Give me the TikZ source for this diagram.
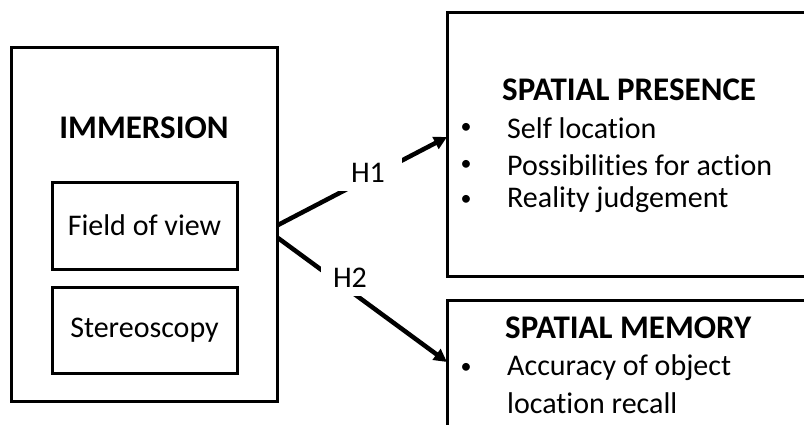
\documentclass[tikz,border=0pt]{standalone}
\usepackage{fontspec}
\setmainfont[Ligatures=NoCommon]{Carlito}
\usetikzlibrary{arrows.meta}
\begin{document}
\begin{tikzpicture}[x=1pt,y=-1pt,
  boxline/.style={draw=black,line width=3pt},
  txt/.style={font=\fontsize{30}{36}\selectfont,inner sep=0pt},
  bul/.style={font=\fontsize{22}{26}\selectfont,inner sep=0pt},
  head/.style={font=\fontsize{33}{40}\selectfont\bfseries,inner sep=0pt},
  conn/.style={line width=4.5pt,-{Triangle[length=13pt,width=13pt]}},
  hlab/.style={fill=white,font=\fontsize{30}{36}\selectfont,inner ysep=8pt}]
\useasboundingbox (0,0) rectangle (804,424);
% left box
\node[boxline,minimum width=266pt,minimum height=354pt,inner sep=0pt] (imm) at (144.5,224.5) {};
\node[head] (immt) at (144,128) {IMMERSION};
\node[boxline,minimum width=185pt,minimum height=87pt,inner sep=0pt] (fov) at (144.5,225.5) {};
\node[txt] (fovt) at (144.5,225.5) {Field of view};
\node[boxline,minimum width=185pt,minimum height=86pt,inner sep=0pt] (ster) at (144.5,330) {};
\node[txt] (stert) at (144.5,330) {Stereoscopy};
% right boxes (cut by the page)
\coordinate (spTL) at (447,12);
\draw[line width=3pt] (830,12) -- (spTL) -- (447,276) -- (830,276);
\coordinate (smTL) at (447,300);
\draw[line width=3pt] (830,300) -- (smTL) -- (447,440);
\node[head,anchor=west] (spt) at (502,90) {SPATIAL PRESENCE};
\node[bul] (b1) at (466,128) {•};
\node[bul] (b2) at (466,165) {•};
\node[bul] (b3) at (466,200) {•};
\node[txt,anchor=west] (i1) at (507,128) {Self location};
\node[txt,anchor=west] (i2) at (507,165) {Possibilities for action};
\node[txt,anchor=west] (i3) at (507,200) {Reality judgement};
\node[head,anchor=west] (smt) at (505,328) {SPATIAL MEMORY};
\node[bul] (b4) at (466,368) {•};
\node[txt,anchor=west] (i4) at (507,368) {Accuracy of object};
\node[txt,anchor=west] (i5) at (507,403) {location recall};
% connectors
\coordinate (o1) at (278,225);
\coordinate (o2) at (278,238);
\coordinate (t1) at (447,137);
\coordinate (t2) at (447,362);
\draw[conn] (o1) -- (t1);
\draw[conn] (o2) -- (t2);
\node[hlab,inner xsep=17pt] (h1) at (368,173) {H1};
\node[hlab,inner xsep=12pt] (h2) at (350,278) {H2};
\end{tikzpicture}
\end{document}
